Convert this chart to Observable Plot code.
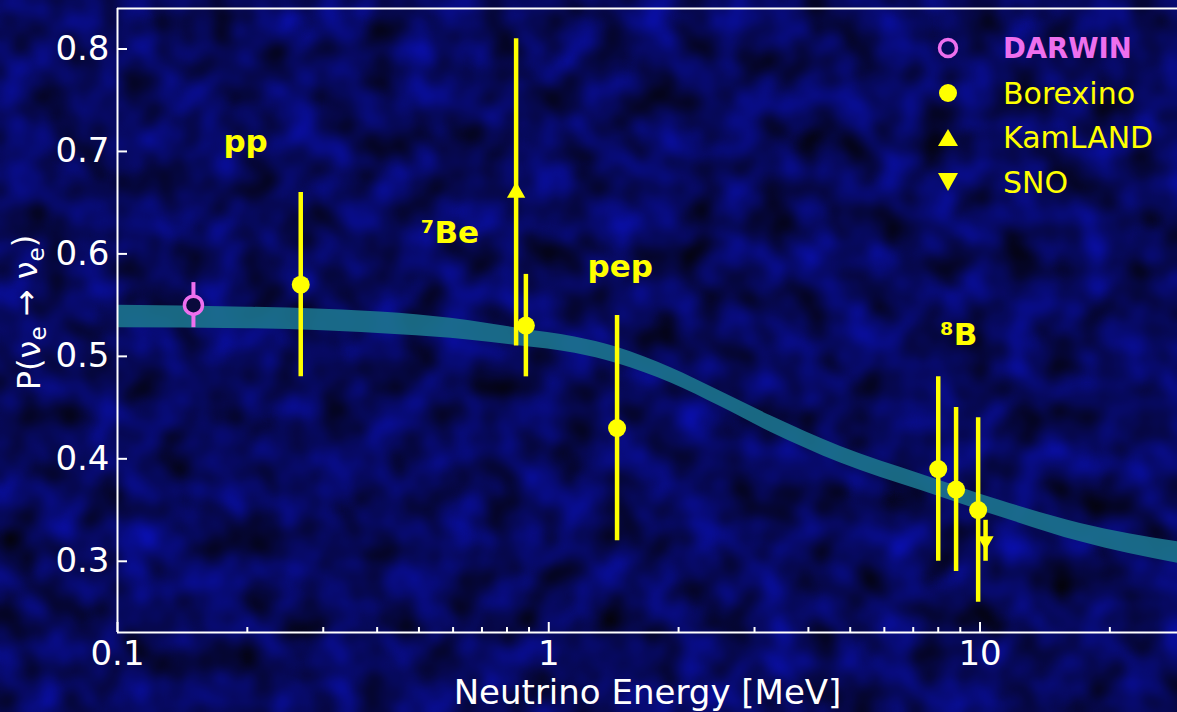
<!DOCTYPE html>
<html><head><meta charset="utf-8">
<script src="https://cdn.jsdelivr.net/npm/d3@7"></script>
<script src="https://cdn.jsdelivr.net/npm/@observablehq/plot@0.6"></script>
<style>
html,body{margin:0;padding:0;background:#07074a;}
#wrap{position:relative;width:1177px;height:712px;overflow:hidden;font-family:"DejaVu Sans",sans-serif;}
#bg{position:absolute;left:0;top:0;}
#chart{position:absolute;left:0;top:0;}
#legend{position:absolute;left:935px;top:26px;}
.row{display:flex;align-items:center;height:44.7px;}
.row svg{width:26px;height:26px;flex:none;}
.row span{font-size:30px;margin-left:42px;white-space:nowrap;}
</style></head><body>
<div id="wrap">
<svg id="bg" width="1177" height="712">
  <filter id="noise" x="0" y="0" width="100%" height="100%" color-interpolation-filters="sRGB">
    <feTurbulence type="fractalNoise" baseFrequency="0.025" numOctaves="2" seed="7"/>
    <feGaussianBlur stdDeviation="2"/>
    <feColorMatrix type="matrix" values="0.03 0 0 0 0.01  0.06 0 0 0 0.005  0.8 0 0 0 -0.04  0 0 0 0 1"/>
  </filter>
  <rect width="1177" height="712" filter="url(#noise)"/>
</svg>
<div id="chart"></div>
<div id="legend"></div>
</div>
<script>
// ---- data ----
const experiments   = ["DARWIN", "Borexino", "KamLAND", "Borexino", "Borexino", "Borexino", "Borexino", "Borexino", "SNO"];
const energies      = [0.15, 0.266, 0.84, 0.885, 1.44, 8.0, 8.8, 9.9, 10.3];
const probabilities = [0.55, 0.57, 0.66, 0.53, 0.43, 0.39, 0.37, 0.35, 0.32];
const errors        = [0.022, 0.09, 0.15, 0.05, 0.11, 0.09, 0.08, 0.09, 0.02];

const bandEnergy = [0.1, 0.2, 0.3, 0.45, 0.65, 0.86, 1.15, 1.44, 1.92, 2.5, 3.27, 4.75, 7.3, 11.2, 17.1, 28.7];
const bandLower  = [0.528, 0.527, 0.525, 0.521, 0.516, 0.510, 0.503, 0.493, 0.474, 0.451, 0.426, 0.396, 0.369, 0.343, 0.319, 0.298];
const bandUpper  = [0.550, 0.548, 0.546, 0.542, 0.535, 0.527, 0.519, 0.509, 0.489, 0.466, 0.442, 0.412, 0.385, 0.359, 0.337, 0.319];

const sourceLabels = ["pp", "⁷Be", "pep", "⁸B"];
const sourceEnergy = [0.176, 0.505, 1.23, 8.08];
const sourceProb   = [0.699, 0.611, 0.577, 0.511];

const xDomain = [0.1, 28.7];
const yDomain = [0.2305, 0.8395];
const xMajor = [0.1, 1, 10];
const xMajorLabels = ["0.1", "1", "10"];
const xMinor = [0.2, 0.3, 0.4, 0.5, 0.6, 0.7, 0.8, 0.9, 2, 3, 4, 5, 6, 7, 8, 9, 20];
const yTicks = [0.3, 0.4, 0.5, 0.6, 0.7, 0.8];
const yTickLabels = ["0.3", "0.4", "0.5", "0.6", "0.7", "0.8"];
const xLabel = "Neutrino Energy [MeV]";
const yLabel = "P(νₑ → νₑ)";

const legendNames = ["DARWIN", "Borexino", "KamLAND", "SNO"];

// ---- styles ----
const yellow = "#ffff00";
const violet = "#ee6fee";

const points = experiments.map((ex, i) => ({experiment: ex, energy: energies[i], p: probabilities[i], err: errors[i]}));
const band = bandEnergy.map((e, i) => ({e, lo: bandLower[i], hi: bandUpper[i]}));
const labels = sourceLabels.map((t, i) => ({t, e: sourceEnergy[i], p: sourceProb[i]}));

const triangleDown = {
  draw(context, size) {
    const s3 = Math.sqrt(3);
    const y = -Math.sqrt(size / (s3 * 3));
    context.moveTo(0, -y * 2);
    context.lineTo(-s3 * y, y);
    context.lineTo(s3 * y, y);
    context.closePath();
  }
};

const byExp = name => points.filter(d => d.experiment === name);

const chart = Plot.plot({
  width: 1177, height: 712,
  marginLeft: 117, marginRight: 0, marginTop: 8, marginBottom: 80,
  style: {background: "transparent", color: "white", fontFamily: "DejaVu Sans"},
  x: {type: "log", domain: xDomain},
  y: {domain: yDomain},
  marks: [
    Plot.areaY(band, {x: "e", y1: "lo", y2: "hi", fill: "#1d768e", fillOpacity: 0.88, curve: "monotone-x"}),
    Plot.ruleY(yDomain, {stroke: "white", strokeWidth: 2}),
    Plot.ruleX([xDomain[0]], {stroke: "white", strokeWidth: 2}),
    Plot.axisY({ticks: yTicks, tickSize: -10, tickPadding: 18, tickFormat: d => yTickLabels[yTicks.indexOf(d)], fontSize: 34, label: null, strokeWidth: 2}),
    Plot.axisX({ticks: xMajor, tickSize: -10, tickPadding: 18, tickFormat: d => xMajorLabels[xMajor.indexOf(d)], fontSize: 34, label: null, strokeWidth: 2}),
    Plot.axisX({ticks: xMinor, tickSize: -5, tickFormat: () => "", label: null, strokeWidth: 2}),
    Plot.ruleX(byExp("DARWIN"), {x: "energy", y1: d => d.p - d.err, y2: d => d.p + d.err, stroke: violet, strokeWidth: 4}),
    Plot.ruleX(points.filter(d => d.experiment !== "DARWIN"), {x: "energy", y1: d => d.p - d.err, y2: d => d.p + d.err, stroke: yellow, strokeWidth: 4.5}),
    Plot.dot(byExp("DARWIN"), {x: "energy", y: "p", r: 9, fill: "#0a0a3c", stroke: violet, strokeWidth: 3.5}),
    Plot.dot(byExp("Borexino"), {x: "energy", y: "p", r: 9, fill: yellow}),
    Plot.dot(byExp("KamLAND"), {x: "energy", y: "p", r: 6.8, symbol: "triangle", fill: yellow}),
    Plot.dot(byExp("SNO"), {x: "energy", y: "p", r: 6, symbol: triangleDown, fill: yellow}),
    Plot.text(labels, {x: "e", y: "p", text: "t", textAnchor: "start", lineAnchor: "bottom", fill: yellow, fontSize: 31, fontWeight: "bold"}),
    Plot.text([xLabel], {frameAnchor: "bottom", textAnchor: "middle", dy: 47, lineAnchor: "top", fontSize: 34, fill: "white"}),
    Plot.text([yLabel], {frameAnchor: "left", textAnchor: "middle", rotate: -90, dx: -88, dy: -8, fontSize: 32, fill: "white"})
  ]
});
document.getElementById("chart").append(chart);

// subscripts in y label
d3.select(chart).selectAll("text").filter(function () { return this.textContent === yLabel; }).each(function () {
  const el = d3.select(this);
  el.text(null);
  const parts = yLabel.split("ₑ");
  parts.forEach((p, i) => {
    el.append("tspan").attr("dy", i > 0 ? "-0.28em" : null).text(p);
    if (i < parts.length - 1) el.append("tspan").attr("dy", "0.28em").attr("font-size", "0.72em").text("e");
  });
});

// legend
const legendSymbols = [
  `<circle cx="13" cy="13" r="8.5" fill="none" stroke="${violet}" stroke-width="3.5"/>`,
  `<circle cx="13" cy="13" r="9" fill="${yellow}"/>`,
  `<path d="M13,4 L23,21 L3,21 Z" fill="${yellow}"/>`,
  `<path d="M3,4 L23,4 L13,22 Z" fill="${yellow}"/>`
];
const legend = d3.select("#legend");
legendNames.forEach((name, i) => {
  const row = legend.append("div").attr("class", "row");
  row.append("svg").attr("viewBox", "0 0 26 26").html(legendSymbols[i]);
  row.append("span").text(name)
    .style("color", name === "DARWIN" ? violet : yellow)
    .style("font-weight", name === "DARWIN" ? "bold" : "normal")
    .style("font-size", name === "DARWIN" ? "27.5px" : null);
});
</script>
</body></html>
